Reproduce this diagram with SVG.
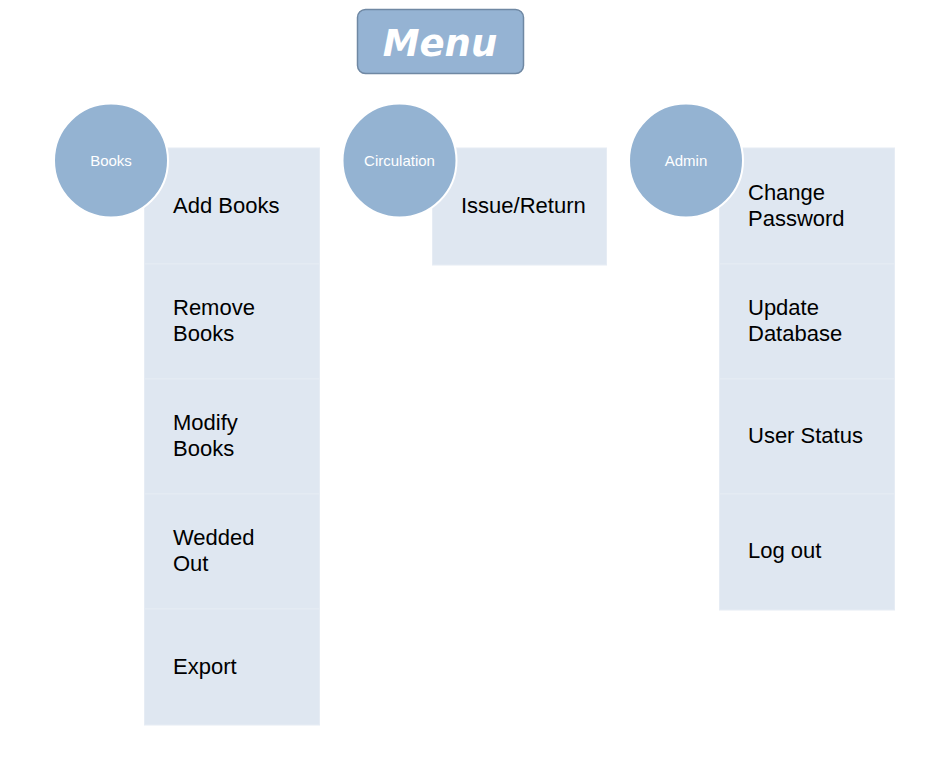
<svg xmlns="http://www.w3.org/2000/svg" width="927" height="769" viewBox="0 0 927 769">
<style>
.row{fill:#DFE7F1;stroke:#E6ECF4;stroke-width:1}
.circ{fill:#94B3D2;stroke:#FFFFFF;stroke-width:2}
.lbl{font-family:"Liberation Sans",Arial,sans-serif;font-size:22px;fill:#000000}
.clbl{font-family:"Liberation Sans",Arial,sans-serif;font-size:15px;fill:#FFFFFF;text-anchor:middle}
</style>
<rect x="0" y="0" width="927" height="769" fill="#FFFFFF"/>
<g id="menu">
<rect x="357.5" y="9.5" width="166" height="64" rx="8" ry="8" fill="#95B3D3" stroke="#6F88A3" stroke-width="1.5"/>
<text x="440" y="56" font-family="'DejaVu Sans',Verdana,sans-serif" font-weight="bold" font-style="italic" font-size="37" fill="#FFFFFF" text-anchor="middle">Menu</text>
</g>
<g id="connectors"></g>
<g id="books-list">
<rect class="row" x="144.5" y="148" width="175" height="116"/>
<rect class="row" x="144.5" y="264" width="175" height="115"/>
<rect class="row" x="144.5" y="379" width="175" height="115"/>
<rect class="row" x="144.5" y="494" width="175" height="115"/>
<rect class="row" x="144.5" y="609" width="175" height="116"/>
<text class="lbl" x="173" y="213">Add Books</text>
<text class="lbl" x="173" y="315">Remove</text>
<text class="lbl" x="173" y="341">Books</text>
<text class="lbl" x="173" y="430">Modify</text>
<text class="lbl" x="173" y="456">Books</text>
<text class="lbl" x="173" y="545">Wedded</text>
<text class="lbl" x="173" y="571">Out</text>
<text class="lbl" x="173" y="674">Export</text>
</g>
<g id="books">
<circle class="circ" cx="111" cy="160.5" r="57"/>
<text class="clbl" x="111" y="165.5">Books</text>
</g>
<g id="circulation-list">
<rect class="row" x="432.5" y="148" width="174" height="117"/>
<text class="lbl" x="461" y="213">Issue/Return</text>
</g>
<g id="circulation">
<circle class="circ" cx="399.5" cy="160.5" r="57"/>
<text class="clbl" x="399.5" y="165.5">Circulation</text>
</g>
<g id="admin-list">
<rect class="row" x="719.5" y="148" width="175" height="116"/>
<rect class="row" x="719.5" y="264" width="175" height="115"/>
<rect class="row" x="719.5" y="379" width="175" height="115"/>
<rect class="row" x="719.5" y="494" width="175" height="116"/>
<text class="lbl" x="748" y="200">Change</text>
<text class="lbl" x="748" y="226">Password</text>
<text class="lbl" x="748" y="315">Update</text>
<text class="lbl" x="748" y="341">Database</text>
<text class="lbl" x="748" y="443">User Status</text>
<text class="lbl" x="748" y="558">Log out</text>
</g>
<g id="admin">
<circle class="circ" cx="686" cy="160.5" r="57"/>
<text class="clbl" x="686" y="165.5">Admin</text>
</g>
</svg>
